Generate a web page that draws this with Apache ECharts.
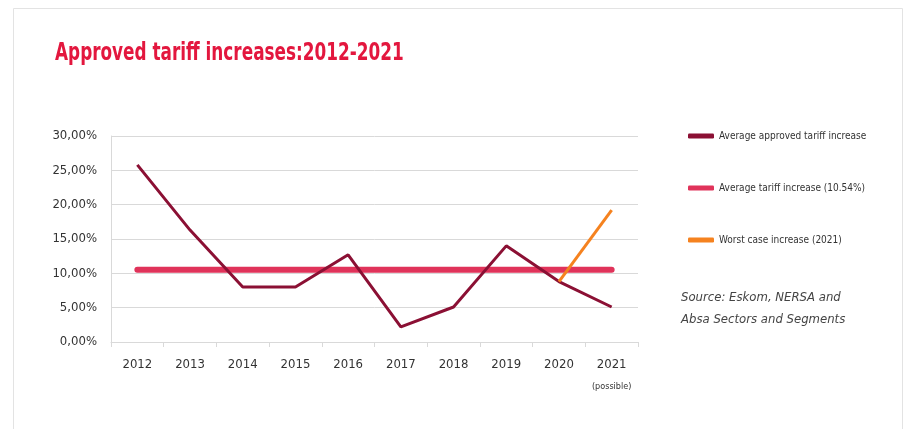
<!DOCTYPE html>
<html>
<head>
<meta charset="utf-8">
<script src="https://cdn.jsdelivr.net/npm/echarts@6/dist/echarts.min.js"></script>
<style>
  html, body { margin: 0; padding: 0; background: #fff; }
  #main { width: 906px; height: 429px; }
</style>
</head>
<body>
<div id="main"></div>
<script>
// data
var years = ['2012', '2013', '2014', '2015', '2016', '2017', '2018', '2019', '2020', '2021'];
var approved = [25.8, 16.3, 8.0, 8.0, 12.7, 2.2, 5.1, 14.0, 8.8, 5.1];
var average = [10.54, 10.54, 10.54, 10.54, 10.54, 10.54, 10.54, 10.54, 10.54, 10.54];
var worstCase = [null, null, null, null, null, null, null, null, 8.8, 19.2];
var yTicks = [0, 5, 10, 15, 20, 25, 30];

var FONT = '"Liberation Sans Narrow", "DejaVu Sans Condensed", sans-serif';

var myChart = echarts.init(document.getElementById('main'));

var option = {
    animation: false,
    backgroundColor: '#fff',
    graphic: [
        {
            type: 'rect',
            shape: { x: 13.5, y: 8.5, width: 889, height: 440 },
            style: { fill: 'none', stroke: '#e3e3e3', lineWidth: 1 }
        },
        {
            type: 'text',
            left: 55,
            top: 41,
            scaleX: 0.75,
            style: {
                text: 'Approved tariff increases:2012-2021',
                fill: '#e3173e',
                font: 'bold 25px ' + FONT
            }
        },
        {
            type: 'text',
            left: 681,
            top: 287,
            style: {
                text: 'Source: Eskom, NERSA and\nAbsa Sectors and Segments',
                fill: '#444',
                font: 'italic 13px ' + FONT,
                lineHeight: 22
            }
        }
    ],
    legend: {
        orient: 'vertical',
        left: 683,
        top: 126,
        itemGap: 42,
        itemWidth: 26,
        itemHeight: 5,
        textStyle: { fontFamily: FONT, fontSize: 10, color: '#333' },
        data: [
            { name: 'Average approved tariff increase', icon: 'roundRect' },
            { name: 'Average tariff increase (10.54%)', icon: 'roundRect' },
            { name: 'Worst case increase (2021)', icon: 'roundRect' }
        ]
    },
    grid: { left: 111, right: 268, top: 136, bottom: 87 },
    xAxis: {
        type: 'category',
        data: years,
        boundaryGap: true,
        axisLine: { lineStyle: { color: '#d9d9d9' } },
        axisTick: { show: true, length: 5, interval: 0, lineStyle: { color: '#d9d9d9' } },
        axisLabel: {
            interval: 0,
            margin: 16,
            fontFamily: FONT,
            fontSize: 13,
            color: '#333',
            formatter: function (v) {
                return v === '2021' ? v + '\n{p|(possible)}' : v;
            },
            rich: {
                p: { fontFamily: FONT, fontSize: 9, color: '#333', padding: [11, 0, 0, 0] }
            }
        }
    },
    yAxis: {
        type: 'value',
        min: yTicks[0],
        max: yTicks[yTicks.length - 1],
        interval: 5,
        axisLine: { show: true, lineStyle: { color: '#d9d9d9' } },
        axisTick: { show: false },
        splitLine: { lineStyle: { color: '#d9d9d9' } },
        axisLabel: {
            margin: 14,
            fontFamily: FONT,
            fontSize: 13,
            color: '#333',
            formatter: function (v) {
                return v.toFixed(2).replace('.', ',') + '%';
            }
        }
    },
    series: [
        {
            name: 'Average approved tariff increase',
            type: 'line',
            data: approved,
            symbol: 'none',
            color: '#8b1034',
            lineStyle: { width: 3, color: '#8b1034' },
            z: 3
        },
        {
            name: 'Average tariff increase (10.54%)',
            type: 'line',
            data: average,
            symbol: 'none',
            color: '#e0335a',
            lineStyle: { width: 6, color: '#e0335a', cap: 'round' },
            z: 2
        },
        {
            name: 'Worst case increase (2021)',
            type: 'line',
            data: worstCase,
            symbol: 'none',
            color: '#f5821f',
            lineStyle: { width: 3, color: '#f5821f' },
            z: 4
        }
    ]
};

myChart.setOption(option);
</script>
</body>
</html>
